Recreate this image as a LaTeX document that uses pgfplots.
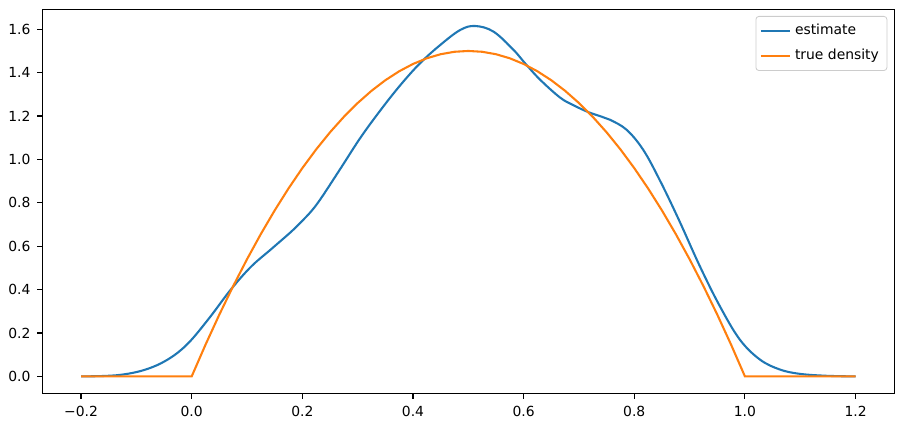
\documentclass[border=0pt]{standalone}
\usepackage{pgfplots}
\pgfplotsset{compat=1.18}
\usepackage{fontspec}
\setmainfont{DejaVu Sans}
\definecolor{mplblue}{HTML}{1F77B4}
\definecolor{mplorange}{HTML}{FF7F0E}
\begin{document}
\begin{tikzpicture}
\useasboundingbox (-21.15pt,-17pt) rectangle (430.85pt,196.95pt);
\begin{axis}[
  scale only axis, width=426pt, height=192.3pt,
  xmin=-0.27, xmax=1.27, ymin=-0.0805, ymax=1.692,
  axis line style={line width=0.56pt},
  tick align=outside, major tick length=2.43pt,
  tick style={black, line width=0.56pt},
  xtick pos=bottom, ytick pos=left,
  xtick={-0.2,0,0.2,0.4,0.6,0.8,1.0,1.2},
  xticklabels={−0.2,0.0,0.2,0.4,0.6,0.8,1.0,1.2},
  ytick={0,0.2,0.4,0.6,0.8,1.0,1.2,1.4,1.6},
  yticklabels={0.0,0.2,0.4,0.6,0.8,1.0,1.2,1.4,1.6},
  ticklabel style={font=\fontsize{6.95}{8}\selectfont},
  legend style={at={(1,1)}, anchor=north east, xshift=-3.5pt, yshift=-3.35pt,
    draw=black!20, rounded corners=1.5pt, fill=white,
    font=\fontsize{6.95}{8}\selectfont, row sep=1.5pt, inner sep=2pt},
  legend cell align=left,
  legend image code/.code={\draw[#1, line width=1.04pt] (0pt,0pt) -- (14.5pt,0pt);},
]
\addplot[mplblue, line width=1.04pt, smooth, tension=0.6] coordinates {
(-0.2,0) (-0.16,0.002) (-0.13,0.007) (-0.1,0.02) (-0.074,0.040) (-0.05,0.068)
(-0.025,0.11) (0,0.17) (0.0345,0.278) (0.0706,0.40) (0.107,0.505)
(0.143,0.585) (0.179,0.665) (0.197,0.71) (0.215,0.758) (0.233,0.818)
(0.269,0.958) (0.305,1.10) (0.341,1.226) (0.377,1.342) (0.413,1.444)
(0.4495,1.528) (0.4856,1.597) (0.5126,1.615) (0.5456,1.589) (0.5817,1.505)
(0.603,1.442) (0.63,1.367) (0.666,1.285) (0.69,1.25) (0.717,1.218)
(0.74,1.198) (0.756,1.183) (0.786,1.137) (0.816,1.045) (0.846,0.905)
(0.88,0.725) (0.9185,0.508) (0.9546,0.324) (0.9907,0.170) (1.027,0.078)
(1.063,0.032) (1.099,0.012) (1.147,0.003) (1.2,0)
};
\addlegendentry{estimate}
\addplot[mplorange, line width=1.04pt] coordinates {
(-0.2,0) (0,0) (0.025,0.14625) (0.05,0.285) (0.075,0.41625) (0.1,0.54)
(0.125,0.65625) (0.15,0.765) (0.175,0.86625) (0.2,0.96) (0.225,1.04625)
(0.25,1.125) (0.275,1.19625) (0.3,1.26) (0.325,1.31625) (0.35,1.365)
(0.375,1.40625) (0.4,1.44) (0.425,1.46625) (0.45,1.485) (0.475,1.49625)
(0.5,1.5) (0.525,1.49625) (0.55,1.485) (0.575,1.46625) (0.6,1.44)
(0.625,1.40625) (0.65,1.365) (0.675,1.31625) (0.7,1.26) (0.725,1.19625)
(0.75,1.125) (0.775,1.04625) (0.8,0.96) (0.825,0.86625) (0.85,0.765)
(0.875,0.65625) (0.9,0.54) (0.925,0.41625) (0.95,0.285) (0.975,0.14625)
(1.0,0) (1.2,0)
};
\addlegendentry{true density}
\end{axis}
\end{tikzpicture}
\end{document}
